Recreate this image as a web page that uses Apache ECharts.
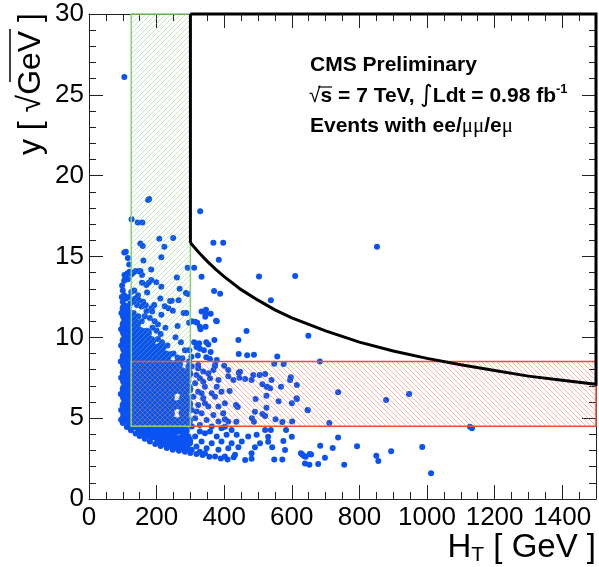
<!DOCTYPE html>
<html><head><meta charset="utf-8">
<script src="https://cdn.jsdelivr.net/npm/echarts@6/dist/echarts.min.js"></script>
<style>html,body{margin:0;padding:0;background:#fff}#c{width:599px;height:567px}</style>
</head><body><div id="c"></div>
<script>
// ---------- data ----------
// dense core of the event cloud (HT [GeV], y [sqrt(GeV)])
const denseEvents = [
  [218,3.55],[240,3.42],[262,3.32],[284,3.22],
  [163,4.15],[185,3.95],[206,3.82],[228,3.76],[250,3.72],[272,3.66],[292,3.6],
  [130,4.6],[151,4.4],[173,4.3],[195,4.27],[216,4.3],[238,4.24],[260,4.3],[282,4.22],
  [108,5.05],[119,4.9],[140,4.85],[162,4.8],[184,4.82],[206,4.76],[227,4.8],[249,4.78],[271,4.74],[291,4.8],
  [108,5.35],[129,5.3],[151,5.32],[172,5.28],[194,5.26],[216,5.3],[238,5.31],[281,5.3],
  [107,5.8],[118,5.78],[140,5.8],[161,5.75],[183,5.8],[205,5.82],[227,5.76],[249,5.8],[270,5.85],[291,5.78],
  [108,6.3],[129,6.28],[150,6.32],[172,6.3],[194,6.27],[216,6.31],[238,6.3],[283,6.26],
  [107,6.8],[118,6.78],[140,6.82],[161,6.8],[183,6.76],[205,6.8],[226,6.83],[249,6.78],[271,6.8],[292,6.84],
  [108,7.3],[129,7.28],[151,7.32],[172,7.3],[194,7.27],[216,7.31],[238,7.3],[262,7.26],[283,7.3],
  [107,7.8],[118,7.78],[140,7.82],[161,7.8],[183,7.76],[205,7.8],[227,7.83],[250,7.78],[272,7.84],[292,7.76],
  [108,8.3],[129,8.28],[151,8.32],[172,8.3],[194,8.27],[216,8.31],[238,8.3],[262,8.34],
  [107,8.8],[118,8.78],[140,8.82],[161,8.8],[183,8.76],[205,8.8],[228,8.84],
  [108,9.3],[129,9.28],[151,9.32],[172,9.3],[194,9.27],[212,9.35],
  [107,9.8],[118,9.78],[140,9.82],[161,9.8],[182,9.76],
  [108,10.3],[129,10.28],[150,10.32],[170,10.26],
  [107,10.8],[118,10.78],[138,10.82],
  [108,11.3],[126,11.28],
  [107,11.8]
];
// individually visible events
const events = [
  [104.5,26.1],[175,18.5],[178,18.55],[126,17.3],[144,17.1],[158,17.1],[329,17.8],
  [109,15.3],[104.5,15.25],[152,15.8],[159,15.65],[208,16.1],[249,16.15],[223,15.6],
  [368,15.85],[397,15.85],[384,14.8],[115,14.9],[119,14.5],[161,14.75],[214,14.95],
  [292,14.3],[311,14.3],[333,13.75],[503,13.77],[610,13.8],[184,14.2],[260,13.7],[852,15.6],
  [105,13.85],[108,13.7],[113,13.95],[120,14.05],[126,13.9],[131,14.0],[138,14.1],[147,14.08],[152,14.1],[157,13.85],
  [104,13.5],[115,13.6],[184,13.54],[170,13.23],[177,13.38],[157,13.38],[199,13.4],[214,13.13],
  [172,12.78],[211,12.4],[240,12.25],[265,12.29],[268,13.0],[293,12.68],[287,12.74],[245,12.26],
  [224,11.93],[235,11.8],[248,11.65],[288,11.5],[280,11.5],[168,11.98],[170,11.63],[193,12.0],[187,11.6],
  [370,12.86],[388,12.7],[346,11.7],[360,11.46],[344,11.27],[376,11.03],[538,12.3],
  [98,13.2],[100,12.9],[104,12.6],[110,12.4],[118,12.5],[122,12.1],[130,12.2],[136,12.4],[142,12.0],
  [148,12.3],[155,11.9],[160,12.2],[125,12.8],[134,12.9],[145,12.6],[100,12.2],[116,11.6],[132,11.5],
  [146,11.3],[156,11.0],[165,11.3],[180,11.2],[194,11.0],[204,10.8],[188,10.6],[200,10.4],[212,10.2],
  [226,10.6],[256,10.0],[272,9.7],[262,10.7],[296,10.9],[214,11.4],[185,11.8],
  [250,9.0],[240,8.95],[276,8.7],[296,8.5],[262,8.75],[216,9.7],[204,9.9],[232,9.5],[284,9.2],
  [304,11.0],[320,10.9],[330,10.5],[314,10.97],[328,10.66],[345,10.66],[333,11.6],[345,11.44],[378,11.0],
  [466,10.39],[442,9.83],[371,9.83],[347,9.7],[353,9.55],[326,9.63],[328,9.3],[311,9.7],[318,9.4],[340,9.2],[360,9.1],
  [443,8.97],[468,8.89],[488,8.92],[557,8.82],[548,8.37],[576,8.35],
  [297,9.2],[303,8.8],[322,8.87],[347,8.77],[358,8.66],[378,8.6],[294,8.18],[323,8.29],[373,8.22],[400,8.24],
  [412,7.6],[443,7.81],[445,7.5],[481,7.36],[505,7.67],[521,7.73],[462,7.42],[513,7.1],[536,6.85],[597,7.53],[615,7.05],
  [416,6.68],[435,5.81],[440,5.69],[493,6.18],[525,6.39],[561,6.04],[600,5.92],[615,6.18],
  [491,5.4],[525,5.65],[513,5.26],[482,4.99],[488,4.78],[521,5.13],[552,4.93],[572,4.76],[601,4.8],[647,5.49],
  [436,4.78],[402,4.93],[402,4.47],[521,4.27],[538,4.27],[583,4.27],[600,3.85],
  [530,3.85],[530,3.54],[542,3.2],[548,2.45],[575,3.59],[580,3.03],[572,2.45],
  [631,2.76],[641,2.62],[657,2.76],[462,2.41],[481,2.49],[428,2.58],
  [649,10.1],[683,8.5],[737,6.6],[879,6.12],[947,6.5],[647,5.5],[711,4.7],[1127,4.47],[1133,4.37],
  [737,3.8],[684,3.3],[721,3.15],[793,3.26],[986,3.22],[850,2.68],[856,2.35],[894,2.95],[698,2.55],
  [755,2.12],[678,2.16],[653,2.78],[636,2.66],[627,2.83],[639,2.2],[652,2.12],[1012,1.59],
  [412,7.98],[427,7.36],[447,7.87],[486,7.67],[540,7.36],[526,6.95],[568,6.95],[595,7.36],[614,6.23],
  [304,8.19],[323,8.09],[338,7.88],[318,7.67],[353,7.78],[373,8.29],[368,7.98],[358,7.47],[383,7.36],
  [338,7.26],[314,7.16],[343,6.95],[378,6.95],[323,6.64],[363,6.54],[392,6.64],[309,6.33],[338,6.23],
  [373,6.33],[402,5.92],[323,5.82],[353,5.72],[383,5.72],[304,5.51],[333,5.3],[368,5.2],[397,5.3],
  [314,5.0],[348,4.89],[383,4.79],[412,4.79],[328,4.58],[363,4.48],[304,4.48],[392,4.38],[422,4.27],
  [343,4.07],[314,3.86],[378,3.86],[407,3.97],[437,3.97],[333,3.55],[363,3.45],[392,3.55],[422,3.45],
  [452,3.55],[318,3.24],[348,3.14],[383,3.04],[412,3.14],[442,3.2],[373,2.63],[402,2.63],[432,2.73],
  [343,2.83],[481,2.83],[491,3.2],[471,3.86],[496,3.97],[506,3.45],
  [294,7.36],[294,6.13],[294,4.89],[328,7.47],[299,6.75],[333,6.54],[299,5.92],[343,5.92],[318,5.41],
  [294,3.86],[299,3.45],[328,4.17],[358,4.17],[304,3.04],[328,2.93],
  [100,4.7],[112,4.45],[124,4.25],[138,4.05],[150,3.9],[165,3.72],[180,3.55],[196,3.4],[212,3.28],
  [230,3.15],[248,3.05],[266,2.98],[284,2.92],[300,2.85],[318,2.78],[336,2.72],[356,2.62],[390,2.5],[410,2.45],
  [95,4.9],[95,5.5],[94,6.5],[95,7.5],[94,8.5],[95,9.5],[95,10.5],[96,11.5],[97,12.5]
];
// signal-region boundary curve
const boundaryHT = [300,325,350,375,400,450,500,550,600,700,800,900,1000,1100,1200,1300,1400,1500];
const boundaryY  = [15.85,15.25,14.7,14.2,13.75,12.95,12.3,11.7,11.2,10.4,9.7,9.15,8.7,8.3,7.95,7.6,7.35,7.1];
// control regions: [HTmin, HTmax, ymin, ymax]
const greenRegion = [125, 300, 4.5, 30];
const redRegion   = [125, 1500, 4.5, 8.5];
const axisRangeHT = [0, 1500];
const axisRangeY  = [0, 30];

// ---------- drawing ----------
const FONT = '"Liberation Sans", Arial, Helvetica, sans-serif';
const DOT = '#0a52f2';
function hatch(color, forward) {
  const s = 5, c = document.createElement('canvas');
  c.width = s; c.height = s;
  const g = c.getContext('2d');
  g.strokeStyle = color; g.lineWidth = 1;
  g.beginPath();
  if (forward) {
    g.moveTo(-1, s + 1); g.lineTo(s + 1, -1);
    g.moveTo(-1, 1); g.lineTo(1, -1);
    g.moveTo(s - 1, s + 1); g.lineTo(s + 1, s - 1);
  } else {
    g.moveTo(-1, -1); g.lineTo(s + 1, s + 1);
    g.moveTo(s - 1, -1); g.lineTo(s + 1, 1);
    g.moveTo(-1, s - 1); g.lineTo(1, s + 1);
  }
  g.stroke();
  return c;
}
const greenPattern = hatch('rgba(120,200,100,0.42)', true);
const redPattern = hatch('rgba(245,110,90,0.5)', false);

function boxRenderer(pattern, stroke) {
  return function (params, api) {
    const tl = api.coord([api.value(0), api.value(3)]);
    const br = api.coord([api.value(1), api.value(2)]);
    const shape = { x: tl[0], y: tl[1], width: br[0] - tl[0], height: br[1] - tl[1] };
    return { type: 'group', children: [
      { type: 'rect', shape: shape, style: { fill: { image: pattern, repeat: 'repeat' }, stroke: null } },
      { type: 'rect', shape: shape, style: { fill: 'none', stroke: stroke, lineWidth: 1.5 } }
    ]};
  };
}

function xAxisDef(position, interval, len, labels) {
  return {
    type: 'value', position: position, min: axisRangeHT[0], max: axisRangeHT[1], interval: interval,
    axisLine: { show: labels !== null, onZero: false, lineStyle: { color: '#222', width: 1 } },
    axisTick: { inside: true, length: len, lineStyle: { color: '#222', width: 1 } },
    axisLabel: labels ? { show: true, fontFamily: FONT, fontSize: 26, color: '#000', margin: 6, showMaxLabel: false,
                          formatter: function (v) { return String(v); } } : { show: false },
    splitLine: { show: false }
  };
}
function yAxisDef(position, labels) {
  return {
    type: 'value', position: position, min: axisRangeY[0], max: axisRangeY[1], interval: 5,
    axisLine: { show: true, onZero: false, lineStyle: { color: '#222', width: 1 } },
    axisTick: { inside: true, length: 14, lineStyle: { color: '#222', width: 1 } },
    minorTick: { show: true, splitNumber: 5, length: 7, lineStyle: { color: '#222', width: 1 } },
    axisLabel: labels ? { show: true, fontFamily: FONT, fontSize: 26, color: '#000', margin: 5,
                          formatter: function (v) { return String(v); } } : { show: false },
    splitLine: { show: false }
  };
}

const chart = echarts.init(document.getElementById('c'), null, { renderer: 'canvas' });
chart.setOption({
  animation: false,
  backgroundColor: '#fff',
  grid: { left: 89, right: 3, top: 14, bottom: 68 },
  xAxis: [
    xAxisDef('bottom', 200, 14, true),
    xAxisDef('bottom', 50, 7, null),
    xAxisDef('top', 200, 14, false),
    xAxisDef('top', 50, 7, null)
  ],
  yAxis: [yAxisDef('left', true), yAxisDef('right', false)],
  series: [
    { type: 'scatter', name: 'events', data: events, symbolSize: 6, itemStyle: { color: DOT, opacity: 1 }, z: 2 },
    { type: 'scatter', name: 'dense', data: denseEvents, symbolSize: 11, itemStyle: { color: DOT, opacity: 1 }, z: 2 },
    { type: 'custom', name: 'red region', data: [redRegion], renderItem: boxRenderer(redPattern, '#f4502c'), z: 3, clip: false },
    { type: 'custom', name: 'green region', data: [greenRegion], renderItem: boxRenderer(greenPattern, '#86cf74'), z: 4, clip: false },
    { type: 'line', name: 'edge', data: [[boundaryHT[0], axisRangeY[1]], [boundaryHT[0], boundaryY[0]]],
      showSymbol: false, symbol: 'none', clip: false, lineStyle: { color: '#000', width: 3 }, z: 6 },
    { type: 'line', name: 'boundary',
      data: boundaryHT.map((h, i) => [h, boundaryY[i]]).concat([[axisRangeHT[1], axisRangeY[1]], [boundaryHT[0], axisRangeY[1]]]),
      showSymbol: false, symbol: 'none', clip: false, lineStyle: { color: '#000', width: 3, join: 'miter' }, z: 6 }
  ],
  graphic: [
    { type: 'text', x: 596, y: 548, z: 10, style: {
        text: '{h|H}{t|T}{h| [ GeV ]}', textAlign: 'right', textVerticalAlign: 'middle',
        rich: { h: { fontFamily: FONT, fontSize: 33, fill: '#000', lineHeight: 36 },
                t: { fontFamily: FONT, fontSize: 21, fill: '#000', lineHeight: 22, verticalAlign: 'bottom' } } } },
    { type: 'text', x: 31, y: 13, rotation: Math.PI / 2, z: 10, style: {
        text: 'y [ √GeV ]', font: '32px ' + FONT, fill: '#000', textAlign: 'right', textVerticalAlign: 'middle' } },
    { type: 'line', z: 10, shape: { x1: 10, y1: 29, x2: 10, y2: 82 }, style: { stroke: '#000', lineWidth: 1.5 } },
    { type: 'text', x: 310, y: 65, z: 10, style: {
        text: 'CMS Preliminary', font: 'bold 21px ' + FONT, fill: '#000', textAlign: 'left', textVerticalAlign: 'middle' } },
    { type: 'text', x: 309, y: 96, z: 10, style: {
        text: '{r|√}{b|s = 7 TeV, }{i|∫}{b|Ldt = 0.98 fb}{s|-1}', textAlign: 'left', textVerticalAlign: 'middle',
        rich: { r: { fontFamily: FONT, fontSize: 21, fill: '#000', lineHeight: 24 },
                b: { fontFamily: FONT, fontSize: 21, fontWeight: 'bold', fill: '#000', lineHeight: 24 },
                i: { fontFamily: '"DejaVu Sans", sans-serif', fontSize: 24, fill: '#000', lineHeight: 26 },
                s: { fontFamily: FONT, fontSize: 13, fontWeight: 'bold', fill: '#000', lineHeight: 14, verticalAlign: 'top' } } } },
    { type: 'line', z: 10, shape: { x1: 318, y1: 87, x2: 332, y2: 87 }, style: { stroke: '#000', lineWidth: 1.2 } },
    { type: 'text', x: 310, y: 126, z: 10, style: {
        text: '{b|Events with ee/}{m|μμ}{b|/e}{m|μ}', textAlign: 'left', textVerticalAlign: 'middle',
        rich: { b: { fontFamily: FONT, fontSize: 21, fontWeight: 'bold', fill: '#000', lineHeight: 24 },
                m: { fontFamily: '"Liberation Serif", serif', fontSize: 21, fill: '#000', lineHeight: 24 } } } }
  ]
});
</script></body></html>
